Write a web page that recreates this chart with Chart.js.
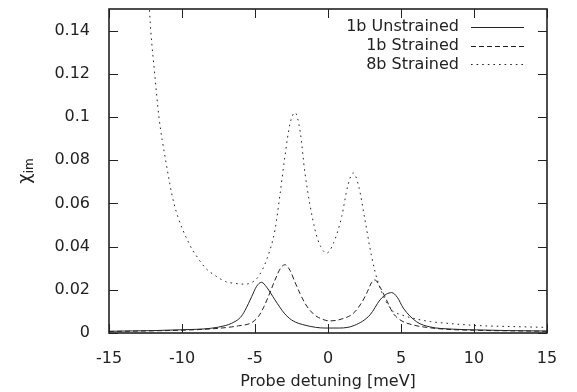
<!DOCTYPE html>
<html><head><meta charset="utf-8">
<script src="https://cdn.jsdelivr.net/npm/chart.js@4/dist/chart.umd.min.js"></script>
<style>html,body{margin:0;padding:0;background:#fff}#wrap{width:577px;height:392px}</style>
</head><body><div id="wrap"><canvas id="c" width="577" height="392"></canvas></div>
<script>
const seriesLabels = ['1b Unstrained', '1b Strained', '8b Strained'];

const unstrainedX = [-15, -12, -10, -8, -7, -6.6, -6, -5.68, -5.23, -4.9, -4.55, -4.2, -3.63, -3.0, -2.49, -1.5, -0.2, 0.8, 1.8, 2.88, 3.56, 4.0, 4.36, 4.75, 5.16, 6.07, 7.0, 8.5, 10.4, 12.5, 15];
const unstrainedY = [0.0008, 0.0011, 0.0015, 0.0022, 0.0035, 0.0045, 0.0072, 0.0105, 0.0168, 0.0215, 0.0235, 0.0212, 0.0153, 0.0092, 0.006, 0.0035, 0.0023, 0.0023, 0.0035, 0.0084, 0.0153, 0.018, 0.0187, 0.0165, 0.0115, 0.0052, 0.0028, 0.0018, 0.0014, 0.0011, 0.0009];

const strained1X = [-15, -12, -10, -8, -7, -6.14, -5.23, -4.77, -4.4, -4.09, -3.6, -3.25, -2.95, -2.6, -2.26, -1.58, -1.0, -0.66, 0.14, 0.9, 1.73, 2.3, 2.65, 3.0, 3.22, 3.5, 3.9, 4.47, 5.0, 5.84, 7, 8.13, 10.4, 12.5, 15];
const strained1Y = [0.0007, 0.001, 0.0013, 0.0019, 0.0025, 0.0033, 0.0048, 0.0076, 0.012, 0.0168, 0.025, 0.03, 0.0316, 0.029, 0.0235, 0.0138, 0.0088, 0.0072, 0.0056, 0.0064, 0.0091, 0.014, 0.0184, 0.0235, 0.0246, 0.022, 0.0168, 0.0091, 0.0058, 0.0037, 0.0024, 0.0017, 0.0012, 0.001, 0.0008];

const strained8X = [-12.25, -12.14, -11.87, -11.58, -11.12, -10.55, -9.41, -9.06, -8.38, -7.69, -7.01, -6.3, -5.7, -5.2, -4.77, -4.2, -3.63, -3.29, -2.95, -2.6, -2.26, -1.9, -1.58, -0.89, -0.5, -0.09, 0.4, 0.94, 1.35, 1.73, 2.1, 2.53, 3.0, 3.45, 4.36, 5.0, 5.84, 7.0, 8.13, 10.4, 12.5, 15];
const strained8Y = [0.152, 0.14, 0.12, 0.10, 0.08, 0.06, 0.04, 0.0362, 0.030, 0.0264, 0.0238, 0.0229, 0.0226, 0.0235, 0.0261, 0.034, 0.0478, 0.064, 0.0818, 0.097, 0.102, 0.093, 0.0741, 0.0478, 0.040, 0.037, 0.042, 0.054, 0.068, 0.0741, 0.068, 0.0524, 0.035, 0.023, 0.0107, 0.0085, 0.0068, 0.0053, 0.0045, 0.0034, 0.003, 0.0026];

const xTicks = [-15, -10, -5, 0, 5, 10, 15];
const xTickLabels = ['-15', '-10', '-5', '0', '5', '10', '15'];
const yTicks = [0, 0.02, 0.04, 0.06, 0.08, 0.1, 0.12, 0.14];
const yTickLabels = ['0', '0.02', '0.04', '0.06', '0.08', '0.1', '0.12', '0.14'];
const xTitle = 'Probe detuning [meV]';
const yTitleMain = 'χ';
const yTitleSub = 'im';

const FONT = "'DejaVu Sans', sans-serif";
const INK = '#222';

function pts(xs, ys) { return xs.map((x, i) => ({x: x, y: ys[i]})); }

const dashes = [[], [5, 3], [1.6, 4]];
const datasets = [
  {label: seriesLabels[0], data: pts(unstrainedX, unstrainedY)},
  {label: seriesLabels[1], data: pts(strained1X, strained1Y)},
  {label: seriesLabels[2], data: pts(strained8X, strained8Y)}
].map((d, i) => Object.assign(d, {
  borderColor: INK, borderWidth: 1, borderDash: dashes[i], pointRadius: 0,
  showLine: true, fill: false, cubicInterpolationMode: 'monotone'
}));

const framePlugin = {
  id: 'frame',
  afterDraw(chart) {
    const {ctx, chartArea: a, scales: {x, y}} = chart;
    ctx.save();
    ctx.strokeStyle = INK;
    ctx.lineWidth = 1;
    const L = 9;
    const line = (x1, y1, x2, y2) => { ctx.beginPath(); ctx.moveTo(x1, y1); ctx.lineTo(x2, y2); ctx.stroke(); };
    xTicks.forEach(v => {
      const px = Math.round(x.getPixelForValue(v)) + 0.5;
      line(px, a.bottom, px, a.bottom - L);
      line(px, a.top, px, a.top + L);
    });
    yTicks.forEach(v => {
      const py = Math.round(y.getPixelForValue(v)) + 0.5;
      line(a.left, py, a.left + L, py);
      line(a.right, py, a.right - L, py);
    });
    ctx.lineWidth = 1.6;
    ctx.strokeRect(a.left, a.top, a.right - a.left, a.bottom - a.top);

    // legend
    ctx.font = '16px ' + FONT;
    ctx.fillStyle = INK;
    ctx.textAlign = 'right';
    ctx.textBaseline = 'middle';
    ctx.lineWidth = 1;
    const textRight = a.right - 88, s0 = a.right - 76, s1 = a.right - 23;
    chart.data.datasets.forEach((d, i) => {
      const yy = a.top + 18 + i * 18.7;
      ctx.fillText(d.label, textRight, yy);
      ctx.setLineDash(d.borderDash);
      line(s0, Math.round(yy) + 0.5, s1, Math.round(yy) + 0.5);
    });
    ctx.setLineDash([]);

    // y title
    ctx.translate(25, (a.top + a.bottom) / 2);
    ctx.rotate(-Math.PI / 2);
    ctx.textAlign = 'left';
    ctx.textBaseline = 'alphabetic';
    ctx.font = '18px ' + FONT;
    const w1 = ctx.measureText(yTitleMain).width;
    ctx.font = '12px ' + FONT;
    const w2 = ctx.measureText(yTitleSub).width;
    const start = -(w1 + w2) / 2;
    ctx.font = '18px ' + FONT;
    ctx.fillText(yTitleMain, start, 5);
    ctx.font = '12px ' + FONT;
    ctx.fillText(yTitleSub, start + w1, 8);
    ctx.restore();
  }
};

new Chart(document.getElementById('c'), {
  type: 'scatter',
  data: {datasets: datasets},
  options: {
    responsive: false,
    animation: false,
    layout: {padding: {top: 9, right: 30, left: 0, bottom: 0}},
    plugins: {legend: {display: false}, tooltip: {enabled: false}},
    scales: {
      x: {
        type: 'linear', min: -15, max: 15,
        grid: {display: false}, border: {display: false},
        afterBuildTicks: s => { s.ticks = xTicks.map(v => ({value: v})); },
        afterFit: s => { s.height = 59; s.paddingLeft = 0; s.paddingRight = 0; },
        ticks: {color: INK, font: {family: FONT, size: 16}, padding: 8, maxRotation: 0,
          callback: (v) => xTickLabels[xTicks.indexOf(v)]},
        title: {display: true, text: xTitle, color: INK, font: {family: FONT, size: 16}, padding: {top: 0, bottom: 1}}
      },
      y: {
        type: 'linear', min: 0, max: 0.15,
        grid: {display: false}, border: {display: false},
        afterBuildTicks: s => { s.ticks = yTicks.map(v => ({value: v})); },
        afterFit: s => { s.width = 109; s.paddingTop = 0; s.paddingBottom = 0; },
        ticks: {color: INK, font: {family: FONT, size: 16}, padding: 11,
          callback: (v) => yTickLabels[yTicks.indexOf(v)]}
      }
    }
  },
  plugins: [framePlugin]
});
</script></body></html>
